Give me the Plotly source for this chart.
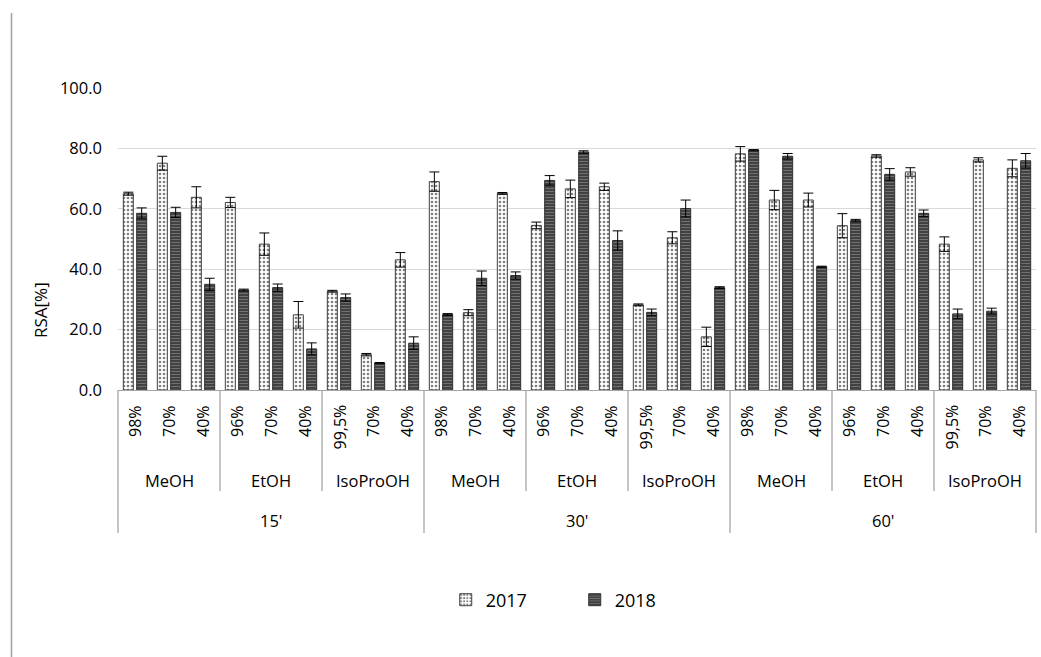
import plotly.graph_objects as go

times = ["15'", "30'", "60'"]
solvents = ["MeOH", "EtOH", "IsoProOH"]
concentrations = {
    "MeOH": ["98%", "70%", "40%"],
    "EtOH": ["96%", "70%", "40%"],
    "IsoProOH": ["99,5%", "70%", "40%"],
}

vals_2017 = [65.0, 75.1, 63.8, 62.1, 48.3, 24.9, 32.7, 11.7, 43.1,
             69.0, 25.6, 65.1, 54.5, 66.6, 67.3, 28.2, 50.4, 17.6,
             78.2, 62.9, 62.9, 54.4, 77.5, 72.2, 48.3, 76.2, 73.4]
err_2017 = [0.5, 2.3, 3.5, 1.7, 3.7, 4.4, 0.3, 0.4, 2.4,
            3.2, 1.0, 0.3, 1.1, 2.9, 1.2, 0.3, 2.0, 3.2,
            2.4, 3.2, 2.3, 4.0, 0.4, 1.4, 2.4, 0.7, 2.8]
vals_2018 = [58.5, 58.8, 35.0, 33.1, 33.9, 13.6, 30.6, 8.9, 15.5,
             25.0, 37.0, 37.9, 69.4, 78.8, 49.5, 25.7, 60.1, 33.9,
             79.4, 77.4, 40.8, 56.1, 71.4, 58.5, 25.2, 26.1, 75.9]
err_2018 = [1.8, 1.7, 2.0, 0.3, 1.2, 2.0, 1.2, 0.2, 2.1,
            0.3, 2.4, 1.2, 1.6, 0.4, 3.2, 1.1, 2.8, 0.3,
            0.2, 0.9, 0.2, 0.4, 1.9, 1.1, 1.6, 1.0, 2.4]

y_ticks = [0, 20, 40, 60, 80, 100]

# build category keys
cats, conc_labels = [], []
for t in times:
    for s in solvents:
        for c in concentrations[s]:
            cats.append(f"{t}|{s}|{c}")
            conc_labels.append(c)
n = len(cats)

FONT = "Open Sans"
fig = go.Figure()
fig.add_trace(go.Bar(
    x=cats, y=vals_2017, name="2017",
    marker=dict(color="white", line=dict(color="#404040", width=1),
                pattern=dict(shape=".", fgcolor="#000000", bgcolor="white",
                             size=4, solidity=0.35)),
    error_y=dict(type="data", array=err_2017, color="black", thickness=1, width=5),
))
fig.add_trace(go.Bar(
    x=cats, y=vals_2018, name="2018",
    marker=dict(color="#404040", line=dict(color="#303030", width=1),
                pattern=dict(shape="-", fgcolor="#a8a8a8", bgcolor="#3c3c3c",
                             size=3, solidity=0.4)),
    error_y=dict(type="data", array=err_2018, color="black", thickness=1, width=5),
))

plot_h = 302.0
def py(px):
    return -px / plot_h

annotations = []
shapes = []
# concentration labels
for i, c in enumerate(conc_labels):
    annotations.append(dict(x=i, xref="x", y=py(13), yref="paper", text=c,
                            textangle=-90, showarrow=False, xanchor="center",
                            yanchor="top", font=dict(family=FONT, size=16, color="black")))
# solvent labels
k = 0
for t in times:
    for s in solvents:
        annotations.append(dict(x=k + 1, xref="x", y=py(90), yref="paper", text=s,
                                showarrow=False, xanchor="center", yanchor="middle",
                                font=dict(family=FONT, size=16.5, color="black")))
        k += 3
# time labels
for j, t in enumerate(times):
    annotations.append(dict(x=j * 9 + 4, xref="x", y=py(130), yref="paper", text=t,
                            showarrow=False, xanchor="center", yanchor="middle",
                            font=dict(family=FONT, size=16.5, color="black")))
# dividers
for b in range(0, n + 1, 3):
    outer = (b % 9 == 0)
    shapes.append(dict(type="line", xref="x domain", yref="paper",
                       x0=b / n, x1=b / n, y0=0, y1=py(143 if outer else 101),
                       line=dict(color="#a6a6a6", width=1.3)))
# y-axis title
annotations.append(dict(x=-(118 - 40) / 918.0, xref="paper", y=(390 - 310) / plot_h,
                        yref="paper", text="RSA[%]", textangle=-90, showarrow=False,
                        xanchor="center", yanchor="middle",
                        font=dict(family=FONT, size=17, color="black")))
# outer chart border (left)
shapes.append(dict(type="line", xref="paper", yref="paper",
                   x0=-(118 - 11.5) / 918.0, x1=-(118 - 11.5) / 918.0,
                   y0=(390 - 13) / plot_h, y1=py(657 - 390 + 5),
                   line=dict(color="#a0a0a0", width=1.5)))

fig.update_layout(
    width=1041, height=657,
    margin=dict(l=118, r=5, t=88, b=267),
    paper_bgcolor="white", plot_bgcolor="white",
    barmode="group", bargap=0.215, bargroupgap=0.25,
    font=dict(family=FONT, size=16, color="black"),
    showlegend=True,
    legend=dict(orientation="h", x=0.357, y=py(210), xanchor="left", yanchor="middle",
                font=dict(family=FONT, size=18, color="black"),
                entrywidth=84, entrywidthmode="pixels", itemclick=False),
    annotations=annotations, shapes=shapes,
)
fig.update_xaxes(type="category", showticklabels=False, showgrid=False,
                 showline=True, linecolor="#a6a6a6", linewidth=1.3, ticks="",
                 range=[-0.5, n - 0.5], zeroline=False)
fig.update_yaxes(range=[0, 100], tickvals=y_ticks,
                 ticktext=[f"{v:.1f}" for v in y_ticks],
                 showgrid=True, gridcolor="#d9d9d9", gridwidth=1.3,
                 zeroline=False, showline=False, ticks="", ticklabelstandoff=15,
                 tickfont=dict(family=FONT, size=16.5, color="black"))

fig.write_html("out.html")
